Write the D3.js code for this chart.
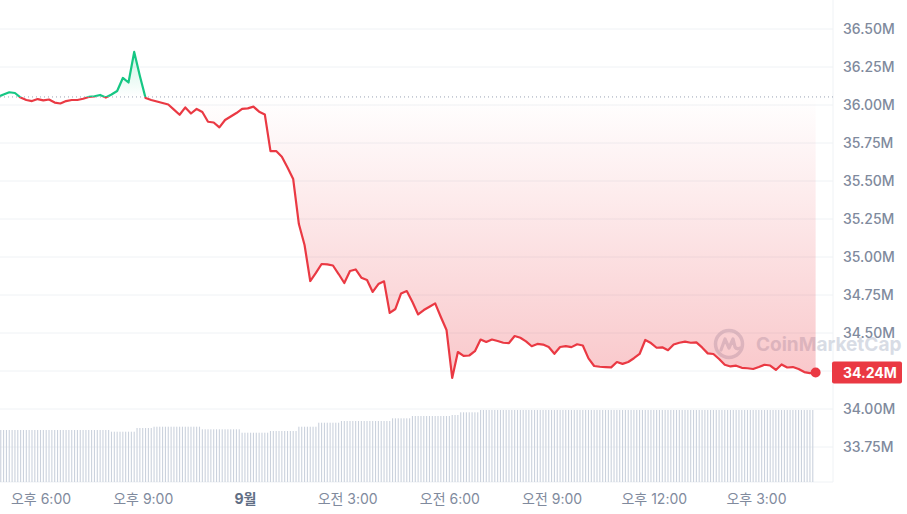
<!DOCTYPE html>
<html><head><meta charset="utf-8">
<script src="https://cdn.jsdelivr.net/npm/d3@7"></script>
<style>html,body{margin:0;padding:0;background:#fff;} svg{display:block;}</style>
</head><body>
<svg id="c" width="907" height="514"></svg>
<script>
// ---- DATA ----
// market cap (M USD), every 10 minutes from 16:45 (Aug 31) to 16:45 (Sep 1)
const prices = [
36.053,36.069,36.084,36.079,36.049,36.033,36.026,36.039,36.030,36.036,
36.016,36.010,36.026,36.033,36.033,36.041,36.053,36.057,36.066,36.049,
36.069,36.092,36.178,36.148,36.349,36.191,36.046,36.033,36.023,36.013,
36.003,35.970,35.936,35.984,35.944,35.974,35.954,35.890,35.885,35.853,
35.901,35.924,35.947,35.975,35.978,35.989,35.956,35.938,35.697,35.697,
35.660,35.589,35.513,35.217,35.079,34.842,34.895,34.954,34.951,34.944,
34.888,34.829,34.908,34.918,34.864,34.849,34.770,34.822,34.840,34.632,
34.658,34.760,34.776,34.704,34.622,34.651,34.673,34.695,34.605,34.520,
34.204,34.375,34.349,34.352,34.380,34.457,34.441,34.457,34.447,34.436,
34.434,34.480,34.469,34.445,34.413,34.428,34.424,34.408,34.363,34.408,
34.414,34.407,34.426,34.418,34.333,34.283,34.278,34.276,34.274,34.309,
34.297,34.309,34.334,34.362,34.454,34.434,34.403,34.406,34.387,34.424,
34.436,34.443,34.436,34.438,34.405,34.366,34.362,34.329,34.291,34.280,
34.285,34.271,34.268,34.263,34.276,34.291,34.286,34.257,34.293,34.273,
34.276,34.263,34.243,34.236,34.240
];
// volume (arbitrary units), every 5 minutes from 16:50 (Aug 31)
const volumes = [
5.2,5.2,5.2,5.2,5.2,5.2,5.2,5.2,5.2,5.2,
5.2,5.2,5.2,5.2,5.2,5.2,5.2,5.2,5.2,5.2,
5.2,5.2,5.2,5.2,5.2,5.2,5.2,5.2,5.2,5.2,
5.2,5.2,5.2,5.2,5.2,5.2,5.2,5.2,5.2,
5.03,5.03,5.03,5.03,5.03,5.03,5.03,5.03,5.03,
5.4,5.4,5.4,5.4,5.4,5.4,
5.53,5.53,5.53,5.53,5.53,5.53,5.53,5.53,5.53,5.53,5.53,5.53,5.53,5.53,5.53,5.53,5.53,
5.27,5.27,5.27,5.27,5.27,5.27,5.27,5.27,5.27,5.27,5.27,5.27,5.27,5.27,
4.93,4.93,4.93,4.93,4.93,4.93,4.93,4.93,4.93,4.93,
5.1,5.1,5.1,5.1,5.1,5.1,5.1,5.1,5.1,5.1,
5.53,5.53,5.53,5.53,5.53,5.53,5.53,
5.93,5.93,5.93,5.93,5.93,5.93,5.93,5.93,
6.1,6.1,6.1,6.1,6.1,6.1,6.1,6.1,6.1,6.1,6.1,6.1,6.1,6.1,6.1,6.1,6.1,6.1,
6.37,6.37,6.37,6.37,6.37,6.37,6.37,
6.6,6.6,6.6,6.6,6.6,6.6,6.6,6.6,6.6,6.6,6.6,6.6,6.6,6.6,
6.7,6.7,6.7,
6.97,6.97,6.97,6.97,6.97,6.97,6.97,
7.2,7.2,7.2,7.2,7.2,7.2,7.2,7.2,7.2,7.2,
7.2,7.2,7.2,7.2,7.2,7.2,7.2,7.2,7.2,7.2,
7.2,7.2,7.2,7.2,7.2,7.2,7.2,7.2,7.2,7.2,
7.2,7.2,7.2,7.2,7.2,7.2,7.2,7.2,7.2,7.2,
7.2,7.2,7.2,7.2,7.2,7.2,7.2,7.2,7.2,7.2,
7.2,7.2,7.2,7.2,7.2,7.2,7.2,7.2,7.2,7.2,
7.2,7.2,7.2,7.2,7.2,7.2,7.2,7.2,7.2,7.2,
7.2,7.2,7.2,7.2,7.2,7.2,7.2,7.2,7.2,7.2,
7.2,7.2,7.2,7.2,7.2,7.2,7.2,7.2,7.2,7.2,
7.2,7.2,7.2,7.2,7.2,7.2,7.2,7.2,7.2,7.2,
7.2,7.2,7.2,7.2,7.2,7.2,7.2,7.2,7.2,7.2,
7.2,7.2,7.2,7.2,7.2,7.2,7.2,7.2
];
const openPrice = 36.053; // reference price (24h ago)
const yTicks = [33.75,34.00,34.25,34.50,34.75,35.00,35.25,35.50,35.75,36.00,36.25,36.50];
const xTickTimes = [
  new Date(2024,7,31,18), new Date(2024,7,31,21), new Date(2024,8,1,0), new Date(2024,8,1,3),
  new Date(2024,8,1,6), new Date(2024,8,1,9), new Date(2024,8,1,12), new Date(2024,8,1,15)
];
const xTickLabels = ['오후 6:00','오후 9:00','9월','오전 3:00','오전 6:00','오전 9:00','오후 12:00','오후 3:00'];

// ---- CHART ----
const plotRight = 833, plotBottom = 482;
const FONT = "Inter, 'Noto Sans CJK KR', sans-serif";
const t0 = new Date(2024,7,31,16,45), v0 = new Date(2024,7,31,16,50);
const pdata = prices.map((v,i)=>({t:new Date(+t0 + i*600000), v}));
const vdata = volumes.map((v,i)=>({t:new Date(+v0 + i*300000), v}));

const x = d3.scaleTime().domain([xTickTimes[0], xTickTimes[7]]).range([40.5, 756]);
const y = d3.scaleLinear().domain([33.75, 36.5]).range([447, 29]);
const yv = d3.scaleLinear().domain([0, 7.2]).range([plotBottom, 410]);

const svg = d3.select('#c');
const defs = svg.append('defs');
const yb = y(openPrice);
const yMin = y(d3.min(prices)), yMax = y(d3.max(prices));
const last = pdata[pdata.length-1];
const ly = y(last.v);

defs.append('clipPath').attr('id','plot').append('rect').attr('x',0).attr('y',0).attr('width',plotRight).attr('height',plotBottom);
defs.append('clipPath').attr('id','above').append('rect').attr('x',0).attr('y',0).attr('width',plotRight).attr('height',yb);
defs.append('clipPath').attr('id','below').append('rect').attr('x',0).attr('y',yb).attr('width',plotRight).attr('height',plotBottom-yb);

const gr = defs.append('linearGradient').attr('id','gRed').attr('gradientUnits','userSpaceOnUse')
  .attr('x1',0).attr('x2',0).attr('y1',yb).attr('y2',yMin);
gr.append('stop').attr('offset',0).attr('stop-color','#ea3943').attr('stop-opacity',0.0);
gr.append('stop').attr('offset',1).attr('stop-color','#ea3943').attr('stop-opacity',0.28);
const gg = defs.append('linearGradient').attr('id','gGreen').attr('gradientUnits','userSpaceOnUse')
  .attr('x1',0).attr('x2',0).attr('y1',yMax).attr('y2',yb);
gg.append('stop').attr('offset',0).attr('stop-color','#16c784').attr('stop-opacity',0.22);
gg.append('stop').attr('offset',1).attr('stop-color','#16c784').attr('stop-opacity',0.0);

// grid
const grid = svg.append('g');
grid.selectAll('line').data(yTicks).join('line')
  .attr('x1',0).attr('x2',plotRight).attr('y1',d=>y(d)).attr('y2',d=>y(d))
  .attr('stroke','#eff2f5').attr('stroke-width',1);
svg.append('line').attr('x1',0).attr('x2',plotRight).attr('y1',plotBottom).attr('y2',plotBottom).attr('stroke','#eff2f5');
svg.append('line').attr('x1',plotRight).attr('x2',plotRight).attr('y1',0).attr('y2',plotBottom).attr('stroke','#eff2f5');

// volume bars
svg.append('g').attr('clip-path','url(#plot)').selectAll('rect').data(vdata).join('rect')
  .attr('x',d=>x(d.t)-0.55).attr('width',1.1)
  .attr('y',d=>yv(d.v)).attr('height',d=>plotBottom-yv(d.v))
  .attr('fill','#cbd2dd');

// watermark
const wm = svg.append('g').attr('transform','translate(729,344)').attr('opacity',0.55);
wm.append('circle').attr('r',13.5).attr('fill','none').attr('stroke','#b9c1d0').attr('stroke-width',3.5);
wm.append('path').attr('d','M-8,6 L-4,-5 L0,4 L4,-5 L6,3 Q8,6 11,4').attr('fill','none')
  .attr('stroke','#b9c1d0').attr('stroke-width',3.2).attr('stroke-linejoin','round').attr('stroke-linecap','round');
wm.append('text').attr('x',27).attr('y',0).attr('dominant-baseline','central')
  .attr('font-family',FONT).attr('font-size',19).attr('font-weight',700).attr('fill','#b9c1d0').text('CoinMarketCap');

// areas
const area = d3.area().x(d=>x(d.t)).y0(yb).y1(d=>y(d.v));
const line = d3.line().x(d=>x(d.t)).y(d=>y(d.v));
const pg = svg.append('g').attr('clip-path','url(#plot)');
pg.append('path').datum(pdata).attr('d',area).attr('fill','url(#gRed)').attr('clip-path','url(#below)');
pg.append('path').datum(pdata).attr('d',area).attr('fill','url(#gGreen)').attr('clip-path','url(#above)');

// baseline dotted
svg.append('line').attr('x1',0).attr('x2',plotRight).attr('y1',yb).attr('y2',yb)
  .attr('stroke','#9aa3b3').attr('stroke-width',1).attr('stroke-dasharray','1,3');

// lines
pg.append('path').datum(pdata).attr('d',line).attr('fill','none').attr('stroke','#ea3943')
  .attr('stroke-width',2.2).attr('stroke-linejoin','round').attr('clip-path','url(#below)');
pg.append('path').datum(pdata).attr('d',line).attr('fill','none').attr('stroke','#16c784')
  .attr('stroke-width',2.2).attr('stroke-linejoin','round').attr('clip-path','url(#above)');

// end dot
svg.append('circle').attr('cx',x(last.t)).attr('cy',ly).attr('r',5).attr('fill','#ea3943');

// y axis (tick labels hidden where the current-price label sits)
const ya = svg.append('g').attr('transform',`translate(${plotRight},0)`)
  .call(d3.axisRight(y).tickValues(yTicks).tickSize(0).tickPadding(10)
    .tickFormat(d=>Math.abs(y(d)-ly) < 16 ? '' : d.toFixed(2)+'M'));
ya.select('.domain').remove();
ya.selectAll('text').attr('font-family',FONT).attr('font-size',14).attr('fill','#808a9d').attr('font-weight',500);

// x axis
const xa = svg.append('g').attr('transform',`translate(0,${plotBottom})`)
  .call(d3.axisBottom(x).tickValues(xTickTimes).tickSize(0).tickPadding(12).tickFormat((d,i)=>xTickLabels[i]));
xa.select('.domain').remove();
xa.selectAll('text').attr('font-family',FONT).attr('font-size',14)
  .attr('font-weight',(d,i)=>xTickLabels[i]==='9월'?700:400)
  .attr('fill',(d,i)=>xTickLabels[i]==='9월'?'#616e85':'#808a9d');

// current price label
svg.append('rect').attr('x',832).attr('y',ly-11).attr('width',70).attr('height',22).attr('rx',2).attr('fill','#ea3943');
svg.append('text').attr('x',843).attr('y',ly).attr('dominant-baseline','central')
  .attr('font-family',FONT).attr('font-size',14).attr('font-weight',700).attr('fill','#fff')
  .text(last.v.toFixed(2)+'M');
</script>
</body></html>
